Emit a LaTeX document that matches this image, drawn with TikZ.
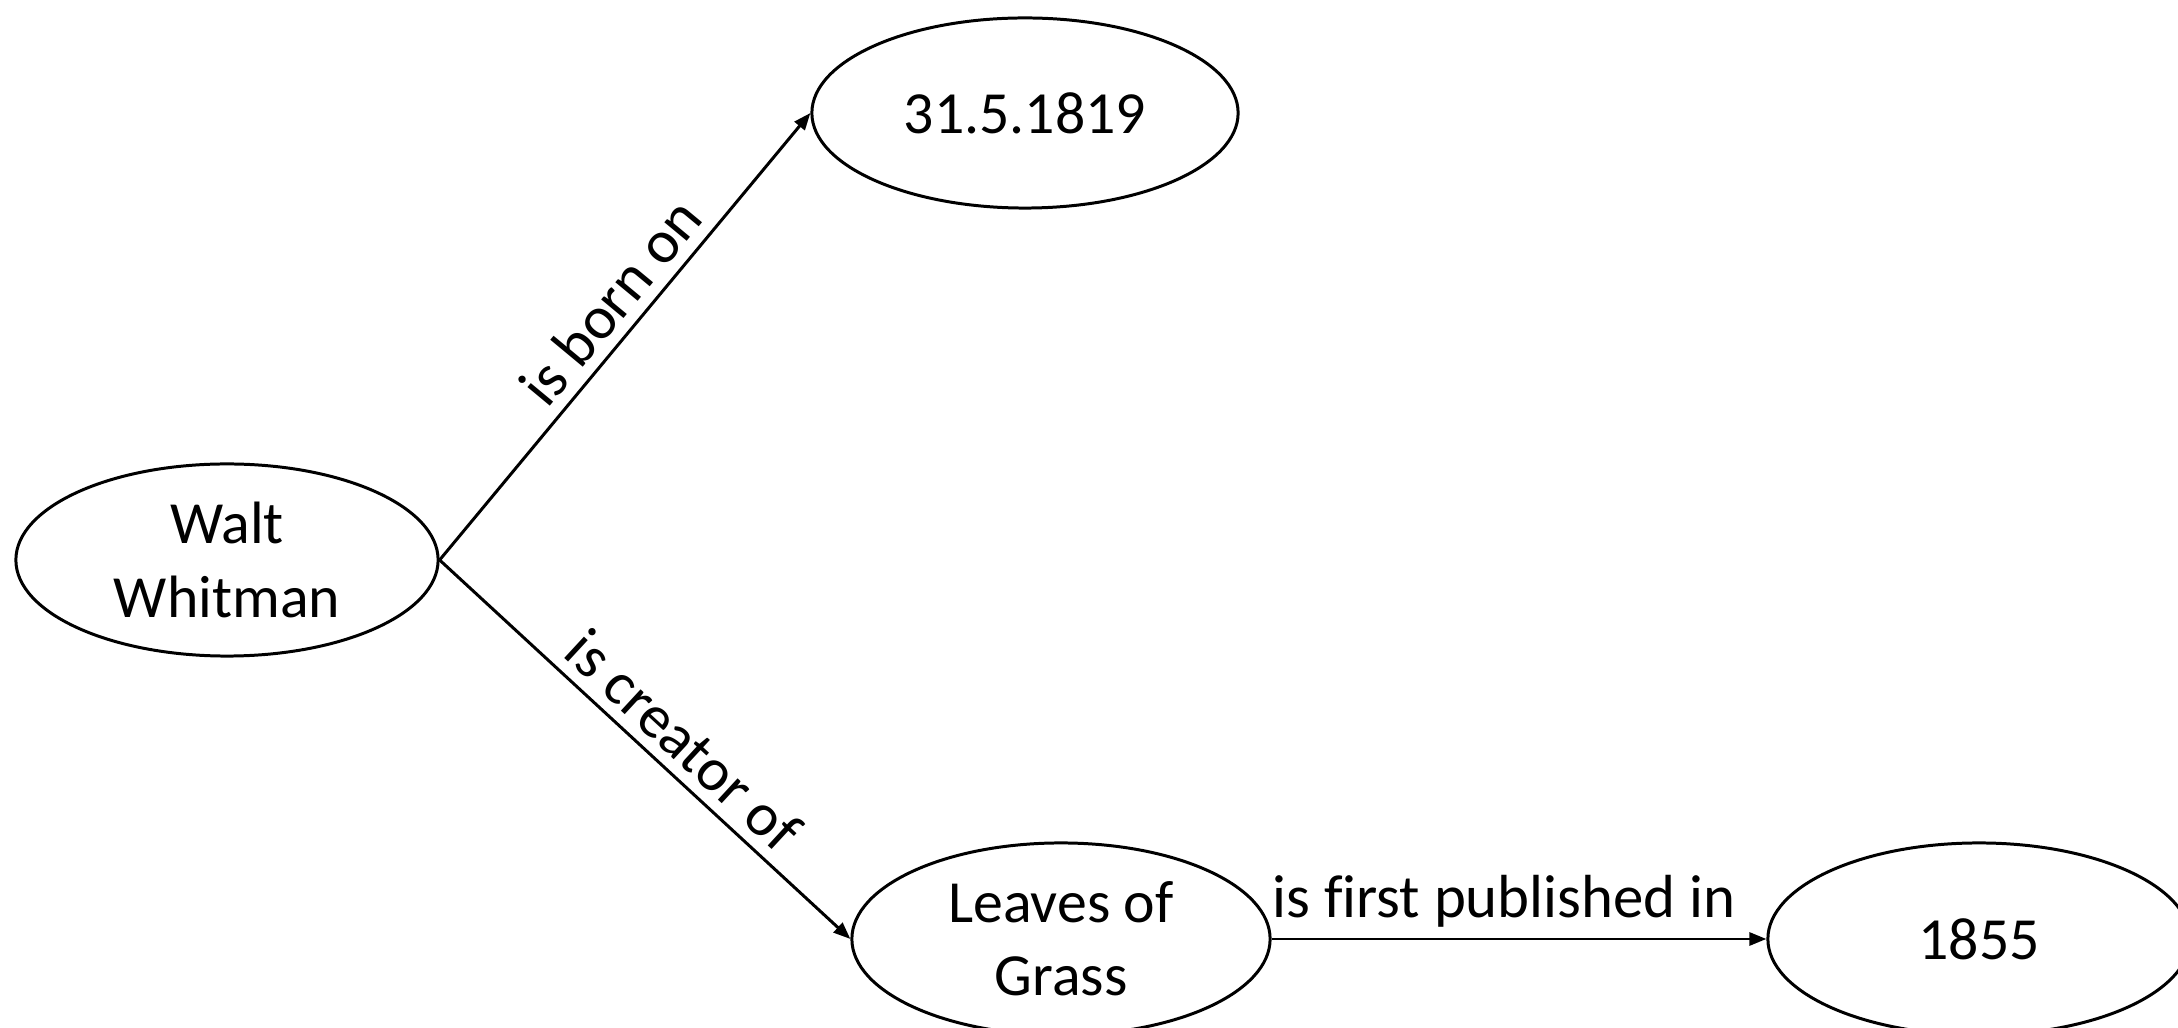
\documentclass[tikz,border=0pt]{standalone}
\usepackage{fontspec}
\setmainfont{Carlito}[Ligatures=NoCommon]
\usetikzlibrary{shapes.geometric,arrows.meta}
\begin{document}
\begin{tikzpicture}[x=0.01cm,y=-0.01cm,
  ent/.style={draw,ellipse,line width=0.85pt,minimum width=4.22cm,minimum height=1.92cm,inner sep=0pt,align=center,font=\fontsize{17}{20.8}\selectfont},
  rel/.style={line width=0.85pt,-{Triangle[length=0.17cm,width=0.13cm]}},
  lbl/.style={font=\fontsize{17.3}{20.8}\selectfont,inner sep=3pt}]
\useasboundingbox (0,0) rectangle (2178,1028);
\clip (0,0) rectangle (2178,1028);
\node[ent] (ww) at (227,560) {Walt\\Whitman};
\node[ent,minimum width=4.26cm,minimum height=1.9cm] (date) at (1025,113) {31.5.1819};
\node[ent,minimum width=4.18cm] (leaves) at (1061,939) {Leaves of\\Grass};
\node[ent] (year) at (1979,939) {1855};
\draw[rel] (ww.east) -- node[lbl,sloped,above,pos=0.53] {is born on} (date.west);
\draw[rel] (ww.east) -- node[lbl,sloped,above,pos=0.54] {is creator of} (leaves.west);
\draw[rel] (leaves.east) -- node[lbl,above,pos=0.47] {is first published in} (year.west);
\end{tikzpicture}
\end{document}
